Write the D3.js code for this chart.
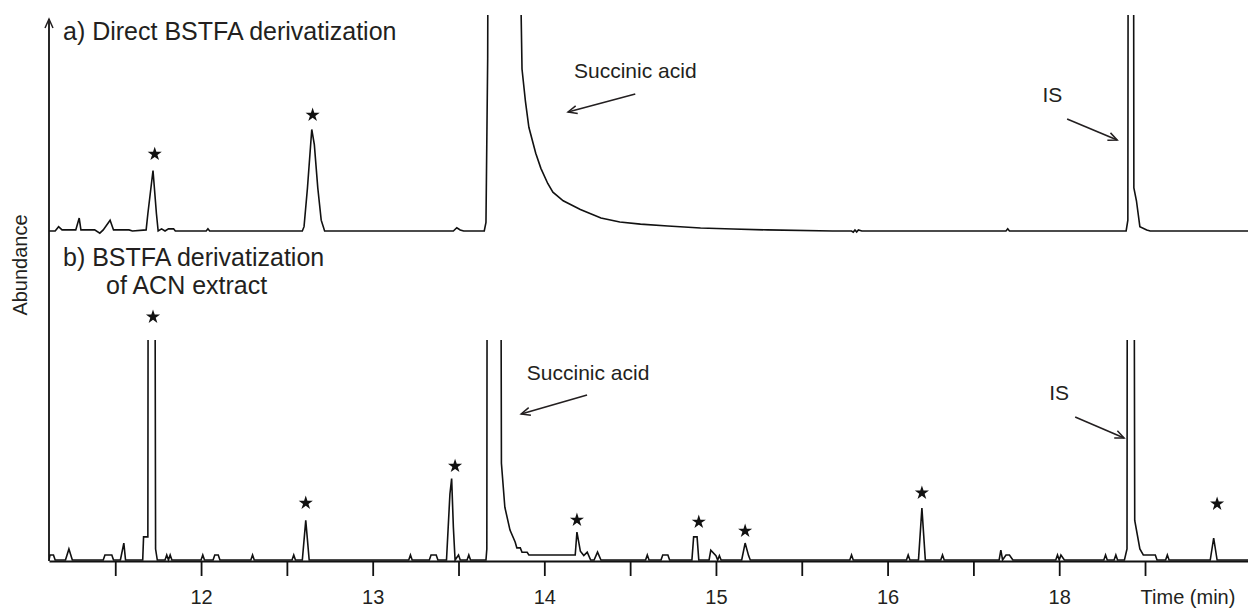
<!DOCTYPE html>
<html>
<head>
<meta charset="utf-8">
<script src="https://d3js.org/d3.v7.min.js"></script>
<style>
  body { margin: 0; background: #fff; }
  svg text { font-family: "Liberation Sans", Arial, sans-serif; fill: #231f20; }
</style>
</head>
<body>
<script>
// time axis
var tickValues = [11.5, 12, 12.5, 13, 13.5, 14, 14.5, 15, 15.5, 16, 16.5, 17, 17.5];
var tickLabels = ["12", "13", "14", "15", "16", "18"];   // as printed (12..17 positions)

// a) direct BSTFA derivatization  [time, abundance]
var traceA = [[11.114,0],[11.15,0],[11.17,2],[11.19,0.5],[11.27,0.5],[11.29,6],[11.30,0.5],[11.38,0.5],
  [11.41,-1],[11.43,0.5],[11.47,5],[11.49,0.5],[11.58,0.5],[11.60,0],[11.68,0.5],[11.69,8],[11.72,28],
  [11.74,8],[11.75,0],[11.77,1],[11.79,0],[11.81,1],[11.84,1],[11.85,0],[12.03,0],[12.04,1],[12.05,0],
  [12.59,0],[12.60,2],[12.62,20],[12.645,47],[12.66,40],[12.68,20],[12.70,5],[12.72,0],[13.47,0],
  [13.49,1.5],[13.51,0.5],[13.53,0],[13.65,0],[13.66,4],[13.67,80],[13.68,400],[13.86,400],[13.865,100],
  [13.87,75],[13.89,60],[13.91,48],[13.95,36],[13.98,29],[14.02,22],[14.05,18],[14.11,14],[14.21,10],
  [14.27,8],[14.33,6],[14.44,4.2],[14.56,3.2],[14.72,2.3],[14.91,1.4],[15.10,0.9],[15.30,0.5],[15.68,0],
  [15.79,0],[15.80,-0.5],[15.81,0.5],[15.82,-0.5],[15.83,0.5],[15.85,0],[16.69,0],[16.70,1],[16.71,0],
  [17.39,0],[17.40,5],[17.405,400],[17.43,400],[17.435,20],[17.45,14],[17.47,2],[17.51,0.5],[17.53,0],
  [18.10,0]];

// b) BSTFA derivatization of ACN extract
var traceB = [[11.114,0],[11.12,2.3],[11.14,2.3],[11.15,0],[11.21,0],[11.23,5],[11.25,0],[11.43,0],
  [11.44,2.3],[11.48,2.3],[11.49,0],[11.53,0],[11.55,7.7],[11.56,0],[11.66,0],[11.665,10.5],[11.69,10.5],
  [11.695,400],[11.725,400],[11.735,5],[11.745,0],[11.79,0],[11.80,2.3],[11.81,0],[11.82,2.3],[11.83,0],
  [12.00,0],[12.01,2.3],[12.02,0],[12.07,0],[12.08,2.3],[12.10,2.3],[12.11,0],[12.29,0],[12.30,2.3],
  [12.31,0],[12.53,0],[12.54,2.3],[12.55,0],[12.59,0],[12.61,18],[12.63,0],[13.21,0],[13.22,2.3],
  [13.23,0],[13.33,0],[13.34,2.3],[13.37,2.3],[13.38,0],[13.43,0],[13.45,30],[13.46,37],[13.47,15],
  [13.48,0],[13.50,2.3],[13.51,0],[13.55,0],[13.56,2.3],[13.57,0],[13.66,0],[13.665,5],[13.67,400],
  [13.74,400],[13.75,44],[13.77,24],[13.80,13.6],[13.83,8.2],[13.84,5.5],[13.86,5.5],[13.87,3.5],
  [13.90,3.5],[13.91,2.3],[14.18,2.3],[14.19,12.7],[14.21,4],[14.23,2],[14.25,3.6],[14.27,0],[14.29,0],
  [14.31,3.6],[14.33,0],[14.59,0],[14.60,2.3],[14.61,0],[14.68,0],[14.69,2.3],[14.72,2.3],[14.73,0],
  [14.86,0],[14.87,10.5],[14.89,10.5],[14.90,0],[14.96,0],[14.97,4.5],[15.00,2],[15.01,0],[15.02,2],
  [15.03,0],[15.15,0],[15.17,7.7],[15.19,2],[15.20,0],[15.78,0],[15.79,2.3],[15.80,0],[16.11,0],
  [16.12,2.3],[16.13,0],[16.18,0],[16.20,23.6],[16.22,0],[16.31,0],[16.32,2.3],[16.33,0],[16.65,0],
  [16.66,4.5],[16.67,0],[16.69,2.3],[16.71,2.3],[16.73,0],[16.98,0],[16.99,2.3],[17.00,0],[17.01,2.3],
  [17.03,0],[17.26,0],[17.27,2.3],[17.28,0],[17.32,0],[17.33,2.3],[17.34,0],[17.38,0],[17.395,5],
  [17.40,400],[17.43,400],[17.44,18],[17.47,5],[17.49,2.3],[17.56,2.3],[17.57,0],[17.62,0],[17.63,2.3],
  [17.64,0],[17.88,0],[17.90,10],[17.92,0],[18.10,0]];

// star markers [time, abundance]
var starsA = [[11.73, 35.6], [12.65, 53.7]];
var starsB = [[11.72, 110.5], [12.61, 25.9], [13.48, 42.7], [14.19, 18.2], [14.90, 17.3],
  [15.17, 13.2], [16.20, 30.5], [17.92, 25.5]];

// labels with arrows: text at [t, a], arrow from [t, a] to [t, a]
var notesA = [
  {text: "Succinic acid", at: [14.53, 70.8], from: [14.53, 63.4], to: [14.138, 55.1]},
  {text: "IS", at: [16.96, 59.7], from: [17.046, 51.9], to: [17.338, 42.1]}
];
var notesB = [
  {text: "Succinic acid", at: [14.255, 81.8], from: [14.249, 75], to: [13.865, 66.4]},
  {text: "IS", at: [17.0, 72.7], from: [17.093, 65], to: [17.378, 55.5]}
];

var width = 1248, height = 609;

var svg = d3.select("body").append("svg")
  .attr("width", width)
  .attr("height", height);

var x = d3.scaleLinear().domain([11.114, 18.1]).range([49, 1248]);
var yA = d3.scaleLinear().domain([0, 100]).range([231, 15]);
var yB = d3.scaleLinear().domain([0, 100]).range([560, 340]);

var defs = svg.append("defs");
defs.append("clipPath").attr("id", "clipA").append("rect")
  .attr("x", 49).attr("y", yA(100)).attr("width", width).attr("height", 240);
defs.append("clipPath").attr("id", "clipB").append("rect")
  .attr("x", 49).attr("y", yB(100)).attr("width", width).attr("height", 240);
defs.append("marker")
  .attr("id", "arr")
  .attr("markerUnits", "userSpaceOnUse")
  .attr("viewBox", "-10 -6 12 12")
  .attr("refX", 0).attr("refY", 0)
  .attr("markerWidth", 12).attr("markerHeight", 12)
  .attr("orient", "auto")
  .append("path")
  .attr("d", "M-9,-4 L0,0 L-9,4")
  .attr("fill", "none")
  .attr("stroke", "#231f20")
  .attr("stroke-width", 1.5);

function drawPanel(trace, y, clip, stars, notes) {
  var line = d3.line().x(function(d){ return x(d[0]); }).y(function(d){ return y(d[1]); });
  svg.append("path")
    .datum(trace)
    .attr("clip-path", "url(#" + clip + ")")
    .attr("d", line)
    .attr("fill", "none")
    .attr("stroke", "#111")
    .attr("stroke-width", 1.6)
    .attr("stroke-linejoin", "miter");

  svg.selectAll(null)
    .data(stars)
    .enter()
    .append("path")
    .attr("d", d3.symbol(d3.symbolStar, 62))
    .attr("transform", function(d){ return "translate(" + x(d[0]) + "," + y(d[1]) + ")"; })
    .attr("fill", "#111");

  notes.forEach(function(n) {
    svg.append("text")
      .attr("x", x(n.at[0])).attr("y", y(n.at[1]))
      .attr("text-anchor", "middle")
      .attr("font-size", 21)
      .text(n.text);
    svg.append("line")
      .attr("x1", x(n.from[0])).attr("y1", y(n.from[1]))
      .attr("x2", x(n.to[0])).attr("y2", y(n.to[1]))
      .attr("stroke", "#231f20")
      .attr("stroke-width", 1.6)
      .attr("marker-end", "url(#arr)");
  });
}

drawPanel(traceA, yA, "clipA", starsA, notesA);
drawPanel(traceB, yB, "clipB", starsB, notesB);

// x axis
var xAxis = d3.axisBottom(x)
  .tickValues(tickValues)
  .tickSize(15)
  .tickSizeOuter(0)
  .tickPadding(14)
  .tickFormat(function(d){
    var i = d - 12;
    return Number.isInteger(i) && i >= 0 && i < tickLabels.length ? tickLabels[i] : "";
  });

var gx = svg.append("g")
  .attr("transform", "translate(0,561)")
  .call(xAxis);
gx.select(".domain").attr("stroke", "#111").attr("stroke-width", 2);
gx.selectAll(".tick line").attr("stroke", "#111").attr("stroke-width", 1.8);
gx.selectAll(".tick text")
  .attr("font-size", 20)
  .attr("font-family", "Liberation Sans, Arial, sans-serif")
  .attr("fill", "#231f20");

svg.append("text")
  .attr("x", 1188).attr("y", 604)
  .attr("text-anchor", "middle")
  .attr("font-size", 20)
  .text("Time (min)");

// y axis with arrow
svg.append("line")
  .attr("x1", 49).attr("y1", 561)
  .attr("x2", 49).attr("y2", 19)
  .attr("stroke", "#111")
  .attr("stroke-width", 1.8)
  .attr("marker-end", "url(#arr)");

svg.append("text")
  .attr("transform", "translate(27,265) rotate(-90)")
  .attr("text-anchor", "middle")
  .attr("font-size", 20)
  .text("Abundance");

// panel titles
svg.append("text").attr("x", 63).attr("y", 40).attr("font-size", 25)
  .text("a) Direct BSTFA derivatization");
svg.append("text").attr("x", 63).attr("y", 266).attr("font-size", 25)
  .text("b) BSTFA derivatization");
svg.append("text").attr("x", 106).attr("y", 294).attr("font-size", 25)
  .text("of ACN extract");
</script>
</body>
</html>
